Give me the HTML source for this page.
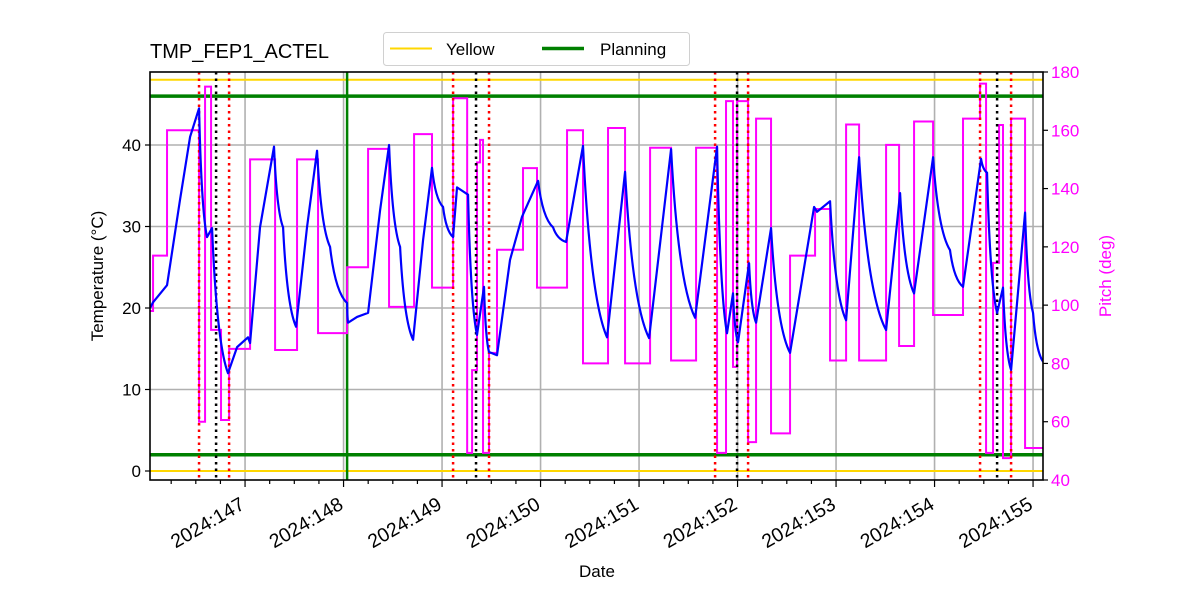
<!DOCTYPE html>
<html><head><meta charset="utf-8"><style>
html,body{margin:0;padding:0;background:#fff;}
svg{display:block;font-family:"Liberation Sans","DejaVu Sans",sans-serif;}
</style></head><body>
<svg id="chart" width="1200" height="600" viewBox="0 0 1200 600" xmlns="http://www.w3.org/2000/svg"></svg>
<script>
// ---- data ----
const tempDays = [146.036,146.066,146.208,146.340,146.442,146.533,146.614,146.665,146.827,146.919,147.030,147.051,147.152,147.294,147.386,147.518,147.629,147.731,147.863,148.036,148.046,148.137,148.249,148.371,148.462,148.574,148.706,148.807,148.898,149.010,149.112,149.152,149.264,149.355,149.426,149.477,149.558,149.690,149.812,149.975,150.127,150.259,150.431,150.675,150.858,151.102,151.325,151.569,151.792,151.893,151.954,152.005,152.117,152.188,152.340,152.533,152.777,152.807,152.939,153.102,153.234,153.508,153.650,153.792,153.985,154.157,154.289,154.472,154.533,154.635,154.695,154.777,154.919,155.000,155.102];
const tempValues = [20.0,20.7,22.8,33.3,41.0,44.5,28.7,29.8,12.0,15.2,16.4,15.7,29.9,39.8,29.9,17.7,29.9,39.3,27.5,20.6,18.2,18.9,19.4,32.0,40.0,27.5,16.1,28.3,37.2,32.4,28.7,34.8,33.9,16.7,22.6,14.6,14.2,25.9,31.2,35.6,29.9,28.1,39.9,16.4,36.7,16.3,39.5,18.8,39.8,16.9,21.8,15.8,25.5,18.2,29.8,14.5,32.4,31.8,33.1,18.5,38.5,17.3,34.1,21.8,38.5,27.1,22.6,38.3,36.6,19.4,22.5,12.4,31.7,19.4,13.4];
const pitchDays = [146.036,146.066,146.208,146.533,146.594,146.655,146.756,146.838,147.051,147.305,147.528,147.741,148.036,148.249,148.462,148.716,148.898,149.112,149.255,149.305,149.355,149.386,149.416,149.477,149.558,149.822,149.964,150.269,150.431,150.685,150.858,151.112,151.325,151.579,151.792,151.883,151.954,151.995,152.107,152.188,152.340,152.533,152.787,152.939,153.102,153.234,153.508,153.640,153.792,153.985,154.289,154.462,154.523,154.594,154.655,154.695,154.777,154.919,155.102];
const pitchValues = [98,117,160,60,175,91.5,60.6,85,150,84.6,150,90.4,113,153.6,99.4,158.7,106,171,49.3,77.7,149,156.7,49.3,83.6,119,147,106,160,80,160.8,80,154,81,154,49.3,170,78.8,170,53,164,56,117,133,81,162,81,155,86,163,96.6,164,176,49.3,114.5,161.8,47.5,164,51,51];
const redEventDays = [146.533,146.838,149.112,149.477,151.772,152.107,154.462,154.777];
const blackEventDays = [146.706,149.345,151.995,154.635];
const greenEventDays = [148.036];
const yellowLimits = [0,48];
const planningLimits = [2,46];
const xTickDays = [147,148,149,150,151,152,153,154,155];
const xTickLabels = ["2024:147","2024:148","2024:149","2024:150","2024:151","2024:152","2024:153","2024:154","2024:155"];
const yTicks = [0,10,20,30,40];
const pitchTicks = [40,60,80,100,120,140,160,180];

// ---- axes ----
const L=150,R=1043,T=72,B=480;
const dMin=146.035,dMax=155.101;
const X=d=>L+(d-dMin)/(dMax-dMin)*(R-L);
const YT=v=>471-v*8.15;
const YP=v=>B-(v-40)/140*(B-T);
const svg=document.getElementById('chart');
const NS='http://www.w3.org/2000/svg';
function mk(tag,attrs,parent){const e=document.createElementNS(NS,tag);for(const k in attrs)e.setAttribute(k,attrs[k]);(parent||svg).appendChild(e);return e;}

const clip=mk('clipPath',{id:'plotclip'});mk('rect',{x:L,y:T,width:R-L,height:B-T},clip);
const g=mk('g',{'clip-path':'url(#plotclip)'});



xTickDays.forEach(d=>{const l=mk('line',{x1:X(d),x2:X(d),y1:T,y2:B,stroke:'#b0b0b0','stroke-width':1.6},g);

});
yTicks.forEach(v=>{const l=mk('line',{x1:L,x2:R,y1:YT(v),y2:YT(v),stroke:'#b0b0b0','stroke-width':1.6},g);

});

yellowLimits.forEach(v=>{const l=mk('line',{x1:L,x2:R,y1:YT(v),y2:YT(v),stroke:'#ffd700','stroke-width':2},g);

});
planningLimits.forEach(v=>{const l=mk('line',{x1:L,x2:R,y1:YT(v),y2:YT(v),stroke:'#008000','stroke-width':3.5},g);

});
greenEventDays.forEach(d=>{const l=mk('line',{x1:X(d),x2:X(d),y1:T,y2:B,stroke:'#008000','stroke-width':2.5},g);

});

let pp='';pitchDays.forEach((d,i)=>{const x=X(d),y=YP(pitchValues[i]);if(i===0)pp+=`M${x},${y}`;else pp+=`H${x}V${y}`;});
const pl=mk('path',{d:pp,fill:'none',stroke:'#ff00ff','stroke-width':2},g);



redEventDays.forEach(d=>{const l=mk('line',{x1:X(d),x2:X(d),y1:T,y2:B,stroke:'#ff0000','stroke-width':2.5,'stroke-dasharray':'2.5,4'},g);

});
blackEventDays.forEach(d=>{const l=mk('line',{x1:X(d),x2:X(d),y1:T,y2:B,stroke:'#000','stroke-width':2.5,'stroke-dasharray':'2.5,4'},g);

});

let tp='';
tempDays.forEach((d,i)=>{const x=X(d),y=YT(tempValues[i]);
 if(i===0){tp+=`M${x},${y}`;return;}
 const x0=X(tempDays[i-1]),y0=YT(tempValues[i-1]);
 if(y>y0+8){const dx=x-x0,dy=y-y0;tp+=`Q${x0+dx*0.3},${y0+dy*0.8} ${x},${y}`;}
 else tp+=`L${x},${y}`;});
const tl=mk('path',{d:tp,fill:'none',stroke:'#0000ff','stroke-width':2.2,'stroke-linejoin':'round'},g);



const fr=mk('rect',{x:L,y:T,width:R-L,height:B-T,fill:'none',stroke:'#000','stroke-width':1.6});



for(let d=146.25;d<=155.1;d+=0.25){const major=Math.abs(d-Math.round(d))<1e-6;const t=mk('line',{x1:X(d),x2:X(d),y1:B,y2:B+(major?7:4),stroke:'#000','stroke-width':1.2});

}
xTickDays.forEach((d,i)=>{const x=X(d)+1,y=B+28;const t=mk('text',{x:x,y:y,'text-anchor':'end','font-size':19.5,transform:`rotate(-30 ${x} ${y})`,fill:'#000'});t.textContent=xTickLabels[i];

});
yTicks.forEach(v=>{mk('line',{x1:L-5,x2:L,y1:YT(v),y2:YT(v),stroke:'#000','stroke-width':1.2});
const t=mk('text',{x:L-9,y:YT(v)+6,'text-anchor':'end','font-size':17});t.textContent=v;

});
pitchTicks.forEach(v=>{mk('line',{x1:R,x2:R+5,y1:YP(v),y2:YP(v),stroke:'#000','stroke-width':1.2});
const t=mk('text',{x:R+8,y:YP(v)+6,'font-size':17,fill:'#ff00ff'});t.textContent=v;

});

svg.insertAdjacentHTML('beforeend',`
<text x="150" y="58" font-size="20">TMP_FEP1_ACTEL</text>
<text x="597" y="577" font-size="17" text-anchor="middle">Date</text>
<text x="103" y="276" font-size="17" text-anchor="middle" transform="rotate(-90 103 276)">Temperature (°C)</text>
<text x="1111" y="276" font-size="17" fill="#ff00ff" text-anchor="middle" transform="rotate(-90 1111 276)">Pitch (deg)</text>
<g>
<rect x="383.5" y="32.5" width="306" height="33" rx="3" fill="#fff" stroke="#d0d0d0"/>
<line x1="390" x2="432" y1="48.5" y2="48.5" stroke="#ffd700" stroke-width="2"/>
<text x="446" y="55" font-size="17">Yellow</text>
<line x1="542" x2="584" y1="48.5" y2="48.5" stroke="#008000" stroke-width="3.5"/>
<text x="600" y="55" font-size="17">Planning</text>
</g>`);
</script>
</body></html>
